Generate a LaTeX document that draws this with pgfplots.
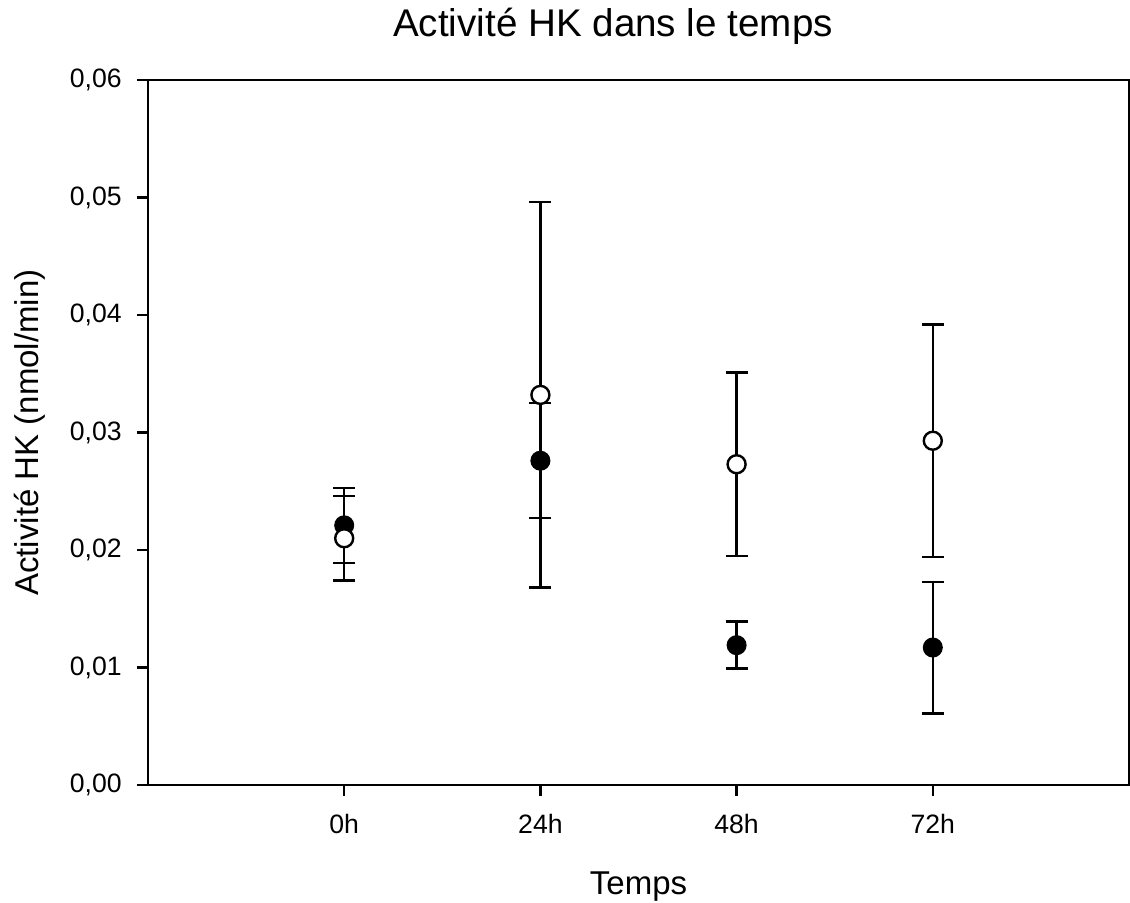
\documentclass[border=0pt]{standalone}
\usepackage{pgfplots}
\pgfplotsset{compat=1.18}
\usepackage{fontspec}
\setmainfont{Liberation Sans}
\pgfplotstableread{
x y e
0 0.0221 0.0032
1 0.0276 0.0049
2 0.0119 0.0020
3 0.0117 0.0056
}\filledT
\pgfplotstableread{
x y e
0 0.0210 0.0036
1 0.0332 0.0164
2 0.0273 0.0078
3 0.0293 0.0099
}\openT
\begin{document}
\begin{tikzpicture}
\begin{axis}[
  name=ax, at={(0,0)}, anchor=south west,
  scale only axis, width=490.5pt, height=352.5pt,
  xmin=-1, xmax=4, ymin=0, ymax=0.06,
  xtick={0,1,2,3}, xticklabels={0h,24h,48h,72h},
  ytick={0,0.01,0.02,0.03,0.04,0.05,0.06},
  tick align=outside, xtick pos=bottom, ytick pos=left,
  major tick length=5.5pt,
  axis line style={line width=1.3pt},
  tick style={line width=1.2pt, black},
  scaled y ticks=false,
  /pgf/number format/fixed, /pgf/number format/fixed zerofill,
  /pgf/number format/precision=2, /pgf/number format/use comma,
  /pgf/number format/assume math mode=true,
  ticklabel style={font=\fontsize{13.3}{15}\selectfont, inner sep=0pt},
  xticklabel style={anchor=base, yshift=-18.5pt},
  yticklabel style={anchor=east, xshift=-7.5pt},
  title={Activité HK dans le temps},
  title style={at={(axis description cs:0.474,1.044)}, anchor=base, font=\fontsize{19.3}{22}\selectfont, inner sep=0pt},
  xlabel={Temps},
  xlabel style={at={(axis description cs:0.5,-0.1546)}, anchor=base, font=\fontsize{16.5}{19}\selectfont, inner sep=0pt},
  ylabel={Activité HK (nmol/min)},
  ylabel style={at={(axis description cs:-0.112,0.5)}, anchor=base, font=\fontsize{16.5}{19}\selectfont, inner sep=0pt},
  clip=false,
]
\addplot[only marks, mark=*, mark size=4.5pt,
  mark options={fill=black, draw=black, line width=1pt},
  error bars/.cd, y dir=both, y explicit,
  error bar style={line width=1.2pt, black},
  error mark options={rotate=90, mark size=5.5pt, line width=1.2pt, black}]
  table[x=x, y=y, y error=e] {\filledT};
\addplot[only marks, mark=*, mark size=4.5pt,
  mark options={fill=white, draw=black, line width=1.2pt},
  error bars/.cd, y dir=both, y explicit,
  error bar style={line width=1.2pt, black},
  error mark options={rotate=90, mark size=5.5pt, line width=1.2pt, black}]
  table[x=x, y=y, y error=e] {\openT};
\end{axis}
\pgfresetboundingbox
\path[use as bounding box] ([xshift=-74pt,yshift=-58.5pt]ax.south west) rectangle ([xshift=0.5pt,yshift=40pt]ax.north east);
\end{tikzpicture}
\end{document}
